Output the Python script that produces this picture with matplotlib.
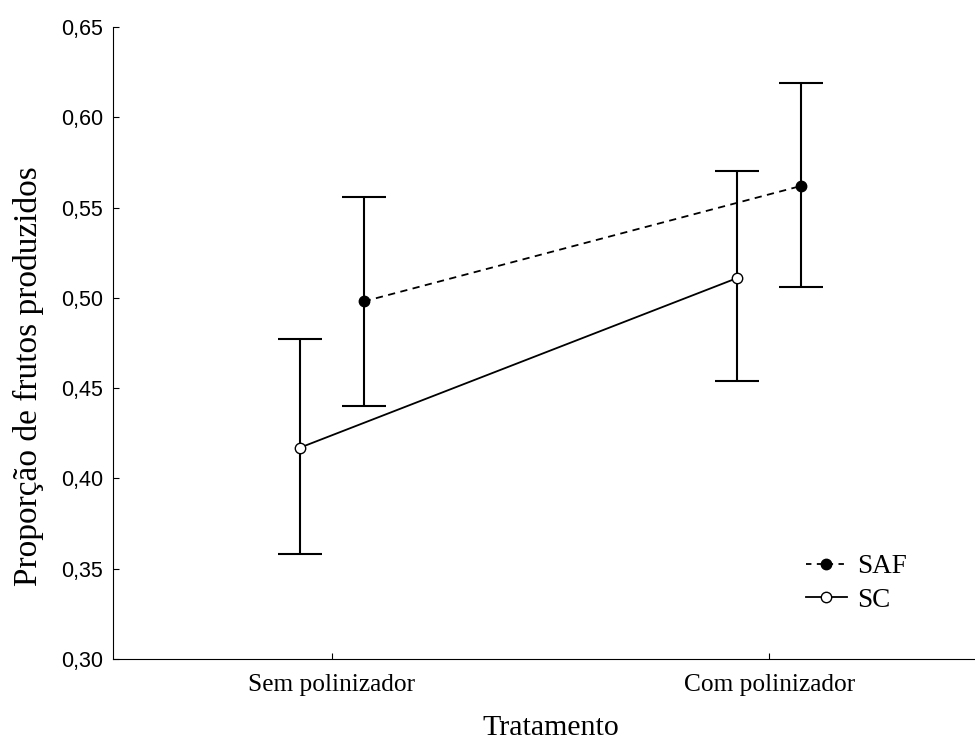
import numpy as np
import matplotlib.pyplot as plt
from matplotlib.lines import Line2D

# dados
tratamentos = ['Sem polinizador', 'Com polinizador']
saf_media = [0.498, 0.562]
saf_erro_sup = [0.556, 0.619]
saf_erro_inf = [0.440, 0.506]
sc_media = [0.417, 0.511]
sc_erro_sup = [0.477, 0.570]
sc_erro_inf = [0.358, 0.454]
yticks = [0.30, 0.35, 0.40, 0.45, 0.50, 0.55, 0.60, 0.65]

x = np.arange(len(tratamentos))
desloc = 0.073

fig = plt.figure(figsize=(9.75, 7.4), dpi=100)
ax = fig.add_axes([113/975, (740-659)/740, 875/975, 632/740])

saf_y = np.array(saf_media)
sc_y = np.array(sc_media)
saf_err = [saf_y - np.array(saf_erro_inf), np.array(saf_erro_sup) - saf_y]
sc_err = [sc_y - np.array(sc_erro_inf), np.array(sc_erro_sup) - sc_y]

ax.errorbar(x + desloc, saf_y, yerr=saf_err, color='black', linestyle='--', lw=1.3,
            marker='o', markersize=7.5, markerfacecolor='black', capsize=16,
            elinewidth=1.5, capthick=1.5, dashes=(4, 3))
ax.errorbar(x - desloc, sc_y, yerr=sc_err, color='black', linestyle='-', lw=1.3,
            marker='o', markersize=7.5, markerfacecolor='white', capsize=16,
            elinewidth=1.5, capthick=1.5)

ax.set_xlim(-0.5, 1.5)
ax.set_ylim(0.30, 0.65)
ax.set_yticks(yticks)
ax.set_yticklabels([f'{v:.2f}'.replace('.', ',') for v in yticks],
                   fontfamily='Liberation Sans', fontsize=15.5)
ax.set_xticks(x)
ax.set_xticklabels(tratamentos, fontfamily='Liberation Serif', fontsize=18.3)
ax.tick_params(direction='in', length=4, width=0.8)
ax.tick_params(axis='y', pad=7)
ax.tick_params(axis='x', pad=11)
ax.spines['top'].set_visible(False)
ax.spines['right'].set_visible(False)

ax.set_xlabel('Tratamento', fontfamily='Liberation Serif', fontsize=21.5)
ax.xaxis.set_label_coords(0.5, -0.088)
ax.set_ylabel('Proporção de frutos produzidos', fontfamily='Liberation Serif', fontsize=24)
ax.yaxis.set_label_coords(-0.079, 0.448)

handles = [
    Line2D([], [], color='black', linestyle='--', dashes=(3, 3), lw=1.3, marker='o',
           markersize=7.5, markerfacecolor='black'),
    Line2D([], [], color='black', linestyle='-', lw=1.3, marker='o',
           markersize=7.5, markerfacecolor='white'),
]
ax.legend(handles, ['SAF', 'SC'], loc='lower left', bbox_to_anchor=(0.764, 0.035), frameon=False,
          prop={'family': 'Liberation Serif', 'size': 19.5}, handlelength=1.5,
          handletextpad=0.4, labelspacing=0.3)

fig.savefig('out.png', dpi=100)
